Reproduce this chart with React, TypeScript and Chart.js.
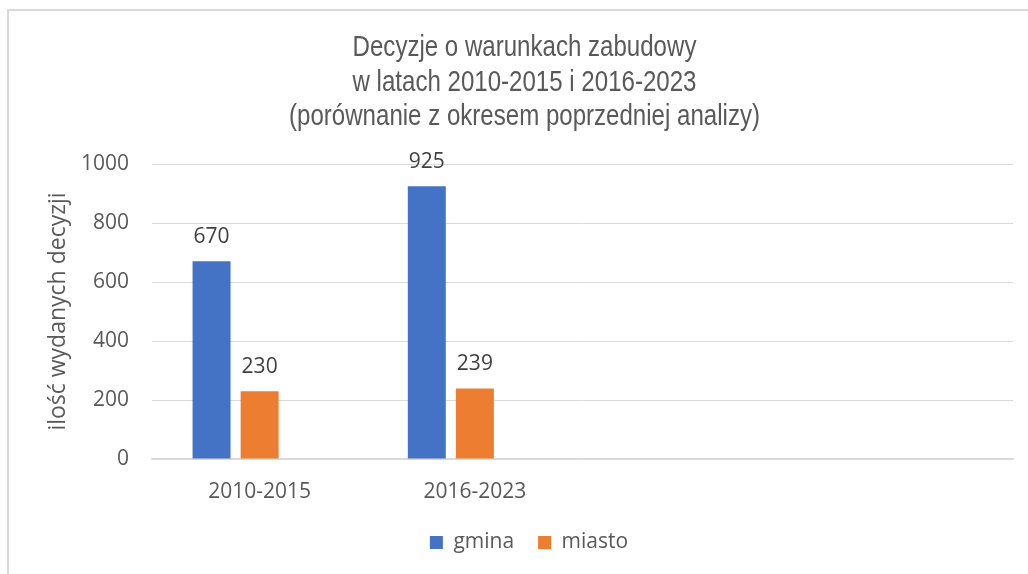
import React, { useEffect, useRef } from 'react';
import { Chart, registerables } from 'chart.js';

Chart.register(...registerables);

const categories = ['2010-2015', '2016-2023', '', ''];
const gminaValues = [670, 925, null, null];
const miastoValues = [230, 239, null, null];
const emptySeries = [null, null, null, null];
const yMin = 0;
const yMax = 1000;
const yStep = 200;
const titleLines = [
  'Decyzje o warunkach zabudowy',
  'w latach 2010-2015 i 2016-2023',
  '(porównanie z okresem poprzedniej analizy)',
];
const yAxisTitle = 'ilość wydanych decyzji';
const seriesNames = ['gmina', 'miasto'];

const TEXT = '#595959';
const FONT = "'Open Sans', 'Noto Sans', sans-serif";

const valueLabels = {
  id: 'valueLabels',
  afterDatasetsDraw(chart: any) {
    const ctx = chart.ctx;
    ctx.save();
    ctx.font = `21px ${FONT}`;
    ctx.fillStyle = '#404040';
    ctx.textAlign = 'center';
    ctx.textBaseline = 'alphabetic';
    chart.data.datasets.forEach((ds: any, i: number) => {
      const meta = chart.getDatasetMeta(i);
      meta.data.forEach((el: any, j: number) => {
        const v = ds.data[j];
        if (v == null) return;
        ctx.fillText(String(v), el.x, el.y - 18);
      });
    });
    ctx.restore();
  },
};

// Narrow-looking title (Arial Narrow style) drawn as real canvas text.
const narrowTitle = {
  id: 'narrowTitle',
  afterDraw(chart: any) {
    const ctx = chart.ctx;
    ctx.save();
    ctx.font = "29px 'Liberation Sans', Arial, sans-serif";
    ctx.fillStyle = TEXT;
    ctx.textAlign = 'center';
    ctx.textBaseline = 'middle';
    titleLines.forEach((line, i) => {
      ctx.save();
      ctx.translate(515.5, 37 + i * 34.5);
      ctx.scale(0.83, 1);
      ctx.fillText(line, 0, 0);
      ctx.restore();
    });
    ctx.restore();
  },
};

export default function App() {
  const ref = useRef<HTMLCanvasElement | null>(null);

  useEffect(() => {
    if (!ref.current) return;
    const chart = new Chart(ref.current, {
      type: 'bar',
      data: {
        labels: categories,
        datasets: [
          {
            label: seriesNames[0],
            data: gminaValues,
            backgroundColor: '#4472C4',
            borderWidth: 0,
            categoryPercentage: 0.67,
            barPercentage: 0.79,
          },
          {
            label: seriesNames[1],
            data: miastoValues,
            backgroundColor: '#ED7D31',
            borderWidth: 0,
            categoryPercentage: 0.67,
            barPercentage: 0.79,
          },
          {
            label: '',
            data: emptySeries,
            backgroundColor: '#A5A5A5',
            borderWidth: 0,
            categoryPercentage: 0.67,
            barPercentage: 0.79,
          },
        ],
      },
      options: {
        responsive: false,
        animation: false,
        devicePixelRatio: 1,
        layout: { padding: { left: 36, right: 15, top: 153, bottom: 11 } },
        plugins: {
          title: { display: false },
          legend: {
            display: true,
            position: 'bottom',
            labels: {
              color: TEXT,
              font: { family: FONT, size: 21 },
              boxWidth: 13,
              boxHeight: 13,
              padding: 24,
              filter: (item: any) => item.text !== '',
            },
          },
          tooltip: { enabled: false },
        },
        scales: {
          x: {
            grid: { display: false, drawTicks: false },
            border: { display: true, color: '#d9d9d9', width: 1.5 },
            ticks: { color: TEXT, font: { family: FONT, size: 21 }, padding: 20, maxRotation: 0, autoSkip: false },
            afterFit: (scale: any) => { scale.height = 49; },
          },
          y: {
            min: yMin,
            max: yMax,
            grid: { color: '#d9d9d9', lineWidth: 1, drawTicks: false },
            border: { display: false },
            ticks: {
              stepSize: yStep,
              color: TEXT,
              font: { family: FONT, size: 21 },
              padding: 23,
              callback: (v: any) => String(v),
            },
            title: {
              display: true,
              text: yAxisTitle,
              color: TEXT,
              font: { family: FONT, size: 23 },
              padding: { top: 0, bottom: 0 },
            },
            afterFit: (scale: any) => { scale.width = 107; },
          },
        },
      },
      plugins: [valueLabels, narrowTitle],
    } as any);
    return () => chart.destroy();
  }, []);

  return (
    <div
      style={{
        position: 'fixed',
        left: 7,
        top: 9,
        width: 1100,
        height: 600,
        borderLeft: '2px solid #d9d9d9',
        borderTop: '2px solid #d9d9d9',
        background: '#ffffff',
      }}
    >
      <canvas ref={ref} width={1019} height={563} style={{ display: 'block' }} />
    </div>
  );
}
